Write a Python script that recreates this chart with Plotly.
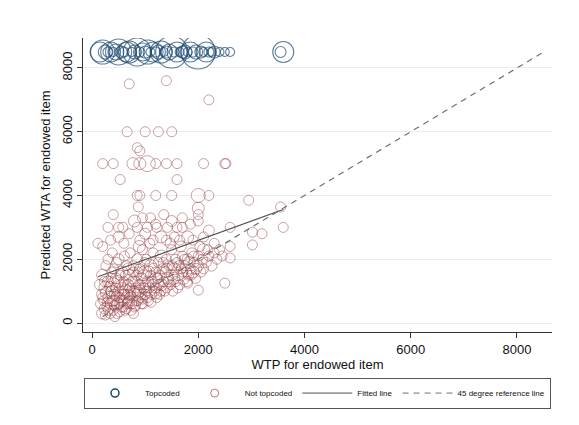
import plotly.graph_objects as go

# ---------------- data ----------------
topcode_value = 8500
top_wtp = [150, 200, 250, 300, 350, 400, 450, 500, 550, 600, 650, 700, 750, 800, 850, 900,
           950, 1000, 1050, 1100, 1150, 1200, 1250, 1300, 1350, 1400, 1450, 1500, 1550, 1600,
           1650, 1700, 1750, 1800, 1850, 1900, 1950, 2000, 2050, 2100, 2150, 2200, 2250, 2300,
           2400, 2500, 2600, 3600, 3550]
top_size = [20, 24, 14, 10, 20, 9, 16, 26, 12, 10, 20, 22, 9, 14, 28, 10,
            18, 12, 24, 9, 20, 10, 14, 22, 9, 12, 16, 32, 10, 20,
            9, 12, 14, 9, 20, 10, 14, 34, 12, 9, 20, 10, 9, 12,
            9, 9, 9, 21, 11]

out_wtp = [700, 1400, 2200, 660, 1000, 1250, 1500, 850, 900,
           200, 400, 770, 900, 1040, 1200, 1400, 1600, 2100, 2500, 2520,
           530, 1600, 850, 900, 1200, 1500, 2000, 2200,
           2950, 870, 2000, 3550, 2000, 400,
           300, 500, 580, 850, 1040, 1220, 1420, 1600, 1700, 2000, 2600, 3600,
           3020, 3200, 3020, 2600, 2500, 2000, 1800, 110, 200, 250, 430]
out_wta = [7500, 7600, 7000, 6000, 6000, 6000, 6000, 5500, 5400,
           5000, 5000, 5000, 5000, 5000, 5000, 5000, 5000, 5000, 5000, 5000,
           4500, 4500, 4000, 4000, 4000, 4000, 4000, 4000,
           3850, 3640, 3600, 3640, 3400, 3400,
           3000, 3000, 3000, 3000, 3000, 3000, 3000, 3000, 3000, 3200, 3000, 3000,
           2850, 2800, 2450, 2040, 1250, 1030, 1250, 2500, 2400, 250, 200]
out_size = [10, 10, 10, 10, 10, 10, 10, 10, 10,
            10, 10, 12, 12, 16, 10, 10, 10, 10, 10, 10,
            10, 10, 10, 10, 10, 10, 14, 10,
            10, 10, 12, 10, 10, 10,
            10, 10, 10, 10, 10, 10, 10, 10, 10, 10, 10, 10,
            10, 10, 10, 10, 10, 10, 10, 10, 10, 10, 10]

cl_wtp = [150, 180, 200, 220, 250, 260, 280, 300, 300, 320,
          350, 350, 370, 380, 400, 400, 420, 430, 450, 460,
          480, 500, 500, 520, 540, 550, 560, 580, 600, 600,
          610, 620, 640, 650, 660, 680, 700, 700, 720, 730,
          750, 760, 780, 800, 800, 820, 840, 850, 860, 880,
          900, 900, 920, 940, 950, 960, 980, 1000, 1000, 1020,
          1050, 1060, 1080, 1100, 1100, 1120, 1150, 1150, 1180, 1200,
          1200, 1220, 1250, 1260, 1280, 1300, 1300, 1320, 1350, 1380,
          1400, 1400, 1420, 1450, 1480, 1500, 1500, 1520, 1550, 1580,
          1600, 1620, 1650, 1680, 1700, 1720, 1750, 1780, 1800, 1820,
          1850, 1880, 1900, 1920, 1950, 2000, 2000, 2050, 2080, 2100,
          2150, 2200, 2250, 2300, 2350, 2400, 2450, 2600, 160, 190,
          230, 270, 310, 330, 360, 390, 410, 440, 470, 490,
          510, 530, 570, 590, 630, 670, 690, 710, 740, 770,
          790, 810, 830, 870, 890, 910, 930, 970, 990, 1010,
          1040, 1070, 1090, 1130, 1160, 1190, 1240, 1270, 1310, 1340,
          1370, 1410, 1440, 1470, 1510, 1540, 1570, 1610, 1640, 1670,
          1710, 1740, 1790, 1830, 1870, 1910, 1960, 2030, 2100, 2180,
          350, 500, 600, 700, 800, 900, 950, 1000, 1100, 1150,
          1200, 1300, 1350, 1400, 1500, 1550, 1650, 1700, 1800, 1850,
          200, 240, 290, 340, 380, 420, 460, 520, 560, 610,
          650, 690, 730, 780, 820, 870, 950, 1030, 1110, 1200,
          1900, 2100, 2200, 2300]
cl_wta = [1200, 900, 1500, 700, 1100, 1800, 500, 1300, 2000, 800,
          1000, 600, 1600, 2200, 400, 1200, 900, 700, 1400, 1900,
          600, 1000, 2000, 800, 1200, 500, 1600, 900, 700, 1300,
          2100, 400, 1000, 1800, 600, 1200, 800, 1500, 2200, 1000,
          600, 1300, 1800, 900, 500, 1100, 1500, 2000, 700, 1200,
          1000, 1700, 800, 1400, 2300, 600, 1100, 1600, 900, 2000,
          1300, 700, 1100, 1800, 1500, 900, 1200, 2200, 1000, 1600,
          1400, 800, 1900, 1200, 1500, 1000, 2100, 1700, 1300, 1600,
          1100, 2000, 1400, 1800, 1200, 1500, 2300, 1000, 1700, 1300,
          1900, 1500, 1200, 1700, 2100, 1400, 1800, 1600, 2000, 1500,
          1700, 2200, 1600, 1900, 1400, 1800, 2100, 1600, 2000, 2300,
          1900, 2100, 1800, 2200, 2000, 2300, 2100, 2400, 600, 300,
          1300, 950, 400, 1150, 1400, 700, 1700, 1100, 300, 1300,
          600, 1500, 1100, 500, 1500, 900, 1700, 1100, 400, 1600,
          1000, 1300, 700, 1600, 2400, 1200, 600, 1500, 1900, 1200,
          800, 1600, 2500, 1300, 1700, 1100, 1400, 900, 1200, 1900,
          1000, 1700, 1300, 2500, 1800, 1400, 2000, 1100, 1800, 2400,
          1600, 2000, 1300, 1900, 1500, 2100, 1700, 2400, 1700, 2300,
          2600, 2700, 2500, 2800, 3200, 2600, 3300, 2800, 3300, 2600,
          3100, 2700, 3400, 2600, 3200, 2700, 2600, 3300, 2700, 3100,
          800, 450, 650, 300, 1000, 550, 850, 350, 700, 900,
          450, 650, 850, 300, 550, 950, 750, 1000, 650, 950,
          2600, 2700, 2900, 2500]
cl_size = [11, 10, 12, 10, 13, 10, 10, 11, 10, 12,
           10, 11, 10, 10, 10, 14, 10, 10, 11, 10,
           12, 10, 11, 10, 10, 10, 12, 10, 11, 10,
           10, 10, 13, 10, 10, 11, 10, 12, 10, 10,
           10, 11, 10, 12, 10, 10, 10, 11, 10, 10,
           12, 10, 10, 11, 10, 10, 10, 13, 10, 10,
           11, 10, 10, 12, 10, 10, 11, 10, 10, 10,
           12, 10, 10, 11, 10, 10, 12, 10, 10, 11,
           10, 10, 12, 10, 10, 11, 10, 10, 12, 10,
           10, 11, 10, 10, 10, 12, 10, 10, 11, 10,
           10, 10, 12, 10, 10, 11, 10, 10, 10, 12,
           10, 10, 11, 10, 10, 10, 10, 10, 10, 11,
           10, 12, 10, 10, 10, 11, 10, 10, 10, 12,
           10, 10, 11, 10, 10, 10, 12, 10, 10, 10,
           11, 10, 10, 10, 12, 10, 10, 11, 10, 10,
           10, 12, 10, 10, 11, 10, 10, 10, 12, 10,
           10, 11, 10, 10, 10, 12, 10, 10, 10, 11,
           10, 10, 10, 12, 10, 10, 11, 10, 10, 10,
           10, 11, 10, 10, 12, 10, 10, 11, 10, 10,
           10, 12, 10, 10, 11, 10, 10, 10, 12, 10,
           10, 11, 10, 10, 12, 10, 10, 10, 11, 10,
           10, 12, 10, 10, 10, 11, 10, 10, 10, 12,
           10, 10, 11, 10]

fit_wtp = [110, 3600]
fit_wta = [1450, 3560]
ref_vals = [200, 8500]

x_ticks = [0, 2000, 4000, 6000, 8000]
y_ticks = [0, 2000, 4000, 6000, 8000]

# ---------------- figure ----------------
nt_wtp = out_wtp + cl_wtp
nt_wta = out_wta + cl_wta
nt_size = out_size + cl_size

NAVY = "#1a476f"
MAROON = "rgba(144,53,59,0.66)"
FIT_COLOR = "#505050"
REF_COLOR = "#707070"
FONT = "Liberation Sans, Arial, Helvetica, sans-serif"

fig = go.Figure()
fig.add_trace(go.Scatter(
    x=nt_wtp, y=nt_wta, mode="markers", showlegend=False,
    marker=dict(symbol="circle-open", size=nt_size, color=MAROON, line=dict(width=1, color=MAROON)),
))
fig.add_trace(go.Scatter(
    x=top_wtp, y=[topcode_value] * len(top_wtp), mode="markers", showlegend=False,
    marker=dict(symbol="circle-open", size=top_size, color=NAVY, line=dict(width=1.1, color=NAVY)),
))
fig.add_trace(go.Scatter(
    x=fit_wtp, y=fit_wta, mode="lines", showlegend=False,
    line=dict(color=FIT_COLOR, width=1.2),
))
fig.add_trace(go.Scatter(
    x=ref_vals, y=ref_vals, mode="lines", showlegend=False,
    line=dict(color=REF_COLOR, width=1.2, dash="6px,5px"),
))

# legend-only entries (small fixed symbols, like the Stata legend key)
fig.add_trace(go.Scatter(x=[None], y=[None], mode="markers", name="Topcoded",
                         marker=dict(symbol="circle-open", size=8, color=NAVY, line=dict(width=1.5, color=NAVY))))
fig.add_trace(go.Scatter(x=[None], y=[None], mode="markers", name="Not topcoded",
                         marker=dict(symbol="circle-open", size=8, color=MAROON, line=dict(width=1, color=MAROON))))
fig.add_trace(go.Scatter(x=[None], y=[None], mode="lines", name="Fitted line",
                         line=dict(color=FIT_COLOR, width=1)))
fig.add_trace(go.Scatter(x=[None], y=[None], mode="lines", name="45 degree reference line",
                         line=dict(color=REF_COLOR, width=1, dash="6px,5px")))

# page body adds an 8px offset, so the figure is 8px smaller and margins shifted
fig.update_layout(
    width=571, height=417,
    margin=dict(l=75, r=27, t=30, b=93, autoexpand=False),
    paper_bgcolor="white", plot_bgcolor="white",
    font=dict(family=FONT, color="#111111", size=13),
    showlegend=True,
    legend=dict(
        orientation="h", x=0.5, xanchor="center", y=-0.155, yanchor="top",
        bordercolor="#555555", borderwidth=1, bgcolor="white",
        font=dict(size=8, family=FONT), itemsizing="trace", itemwidth=50,
        traceorder="normal",
    ),
    xaxis=dict(
        range=[-170, 8660], tickvals=x_ticks, ticktext=[str(v) for v in x_ticks],
        showgrid=False, zeroline=False, showline=True, linecolor="#333333", linewidth=1,
        ticks="outside", ticklen=5, tickcolor="#333333", tickfont=dict(size=13),
        title=dict(text="WTP for endowed item", font=dict(size=13), standoff=2),
        automargin=False,
    ),
    yaxis=dict(
        range=[-282, 8940], tickvals=y_ticks, ticktext=[str(v) for v in y_ticks],
        showgrid=True, gridcolor="#ececec", gridwidth=1, zeroline=False,
        showline=True, linecolor="#333333", linewidth=1,
        ticks="outside", ticklen=5, tickcolor="#333333", tickangle=-90,
        tickfont=dict(size=13),
        title=dict(text="Predicted WTA for endowed item", font=dict(size=13), standoff=6),
        automargin=False,
    ),
)

fig.write_html("out.html")
